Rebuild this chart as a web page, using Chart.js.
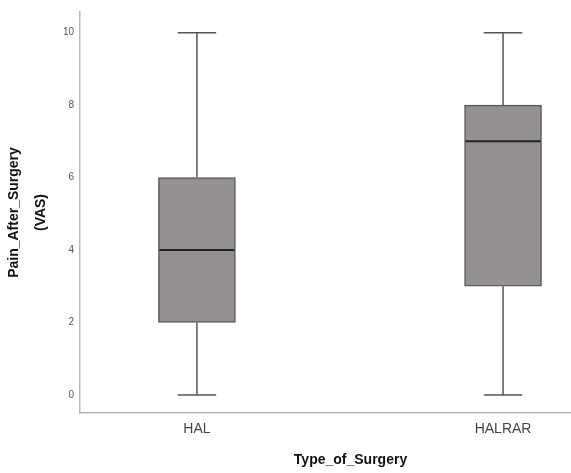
<!DOCTYPE html>
<html>
<head>
<meta charset="utf-8">
<script src="https://cdn.jsdelivr.net/npm/chart.js@4/dist/chart.umd.min.js"></script>
<style>
  html, body { margin: 0; padding: 0; background: #fff; }
  #wrap { width: 571px; height: 473px; }
</style>
</head>
<body>
<div id="wrap"><canvas id="chart"></canvas></div>
<script>
const categories = ['HAL', 'HALRAR'];
const mins = [0, 0];
const q1s = [2, 3];
const medians = [4, 7];
const q3s = [6, 8];
const maxs = [10, 10];
const yTicks = [0, 2, 4, 6, 8, 10];
const xTitle = 'Type_of_Surgery';

// whiskers, caps and median line drawn on top of the floating bars
const boxExtras = {
    id: 'boxExtras',
    afterDatasetsDraw(chart) {
        const { ctx, scales: { x, y } } = chart;
        const meta = chart.getDatasetMeta(0);
        ctx.save();
        categories.forEach((c, i) => {
            const cx = x.getPixelForValue(i);
            const w = meta.data[i].width;
            const cap = w / 2;
            ctx.strokeStyle = '#555';
            ctx.lineWidth = 1.5;
            ctx.beginPath();
            ctx.moveTo(cx, y.getPixelForValue(q3s[i]));
            ctx.lineTo(cx, y.getPixelForValue(maxs[i]));
            ctx.moveTo(cx, y.getPixelForValue(q1s[i]));
            ctx.lineTo(cx, y.getPixelForValue(mins[i]));
            ctx.moveTo(cx - cap / 2, y.getPixelForValue(maxs[i]));
            ctx.lineTo(cx + cap / 2, y.getPixelForValue(maxs[i]));
            ctx.moveTo(cx - cap / 2, y.getPixelForValue(mins[i]));
            ctx.lineTo(cx + cap / 2, y.getPixelForValue(mins[i]));
            ctx.stroke();
            ctx.strokeStyle = '#222';
            ctx.lineWidth = 2;
            ctx.beginPath();
            ctx.moveTo(cx - w / 2 + 1, y.getPixelForValue(medians[i]));
            ctx.lineTo(cx + w / 2 - 1, y.getPixelForValue(medians[i]));
            ctx.stroke();
        });
        ctx.restore();
    }
};

// x title sits a bit right of the visible axis centre (the frame is cut off on the right)
const xTitlePlugin = {
    id: 'xTitlePlugin',
    afterDraw(chart) {
        const { ctx, scales: { x } } = chart;
        ctx.save();
        ctx.font = 'bold 14px "Liberation Sans", Arial';
        ctx.fillStyle = '#111';
        ctx.textAlign = 'center';
        ctx.textBaseline = 'middle';
        ctx.fillText(xTitle, (x.left + x.right) / 2 + 25, x.bottom - 13);
        ctx.restore();
    }
};

new Chart(document.getElementById('chart'), {
    type: 'bar',
    data: {
        datasets: [{
            data: categories.map((c, i) => ({ x: i, y: [q1s[i], q3s[i]] })),
            backgroundColor: '#959191',
            borderColor: '#5a5a5a',
            borderWidth: 1.5,
            borderSkipped: false,
            barThickness: 77
        }]
    },
    options: {
        responsive: true,
        maintainAspectRatio: false,
        animation: false,
        layout: { padding: { top: 8, right: 0, left: 0, bottom: 0 } },
        plugins: { legend: { display: false }, tooltip: { enabled: false } },
        scales: {
            x: {
                type: 'linear',
                offset: false,
                min: -0.382,
                max: 1.222,
                afterBuildTicks: s => { s.ticks = categories.map((c, i) => ({ value: i })); },
                afterFit: s => { s.height = 60; },
                grid: { display: true, drawOnChartArea: false, drawTicks: false },
                border: { display: true, color: '#b8b8b8', width: 1.5 },
                ticks: {
                    callback: v => categories[v],
                    padding: 8,
                    color: '#444',
                    font: { family: 'Liberation Sans, Arial', size: 14 }
                },
                title: { display: false }
            },
            y: {
                min: -0.5,
                max: 10.57,
                afterBuildTicks: s => { s.ticks = yTicks.map(v => ({ value: v })); },
                afterFit: s => { s.width = 80; },
                grid: { display: true, drawOnChartArea: false, drawTicks: false },
                border: { display: true, color: '#b8b8b8', width: 1.5 },
                ticks: {
                    padding: 6,
                    color: '#555',
                    font: { family: 'Liberation Sans, Arial', size: 10 }
                },
                title: {
                    display: true,
                    text: ['Pain_After_Surgery', '(VAS)'],
                    color: '#111',
                    font: { family: 'Liberation Sans, Arial', size: 14, weight: 'bold', lineHeight: 1.93 },
                    padding: { top: 1, bottom: 0 }
                }
            }
        }
    },
    plugins: [boxExtras, xTitlePlugin]
});
</script>
</body>
</html>
